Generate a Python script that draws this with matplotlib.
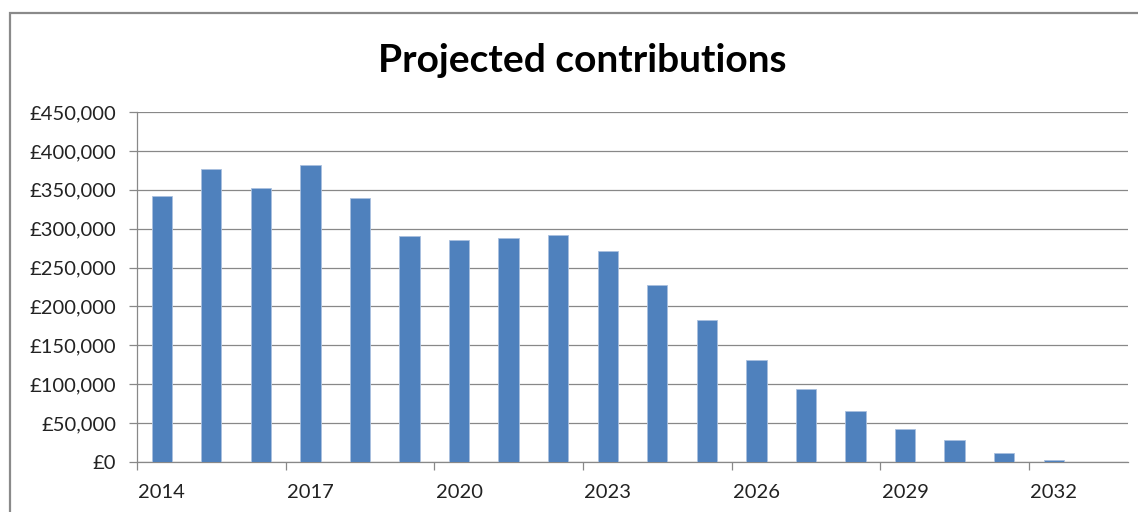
import matplotlib
matplotlib.use("Agg")
from matplotlib import pyplot as plt
from matplotlib.patches import Rectangle
from matplotlib.ticker import FuncFormatter
import numpy as np

# data
years = list(range(2014, 2034))
contributions = [342000, 377000, 352500, 382000, 340000, 290000, 286000, 288000, 291500, 271500,
                 227000, 182500, 131000, 93500, 66000, 42500, 28500, 12000, 2000, 0]
yTicks = [0, 50000, 100000, 150000, 200000, 250000, 300000, 350000, 400000, 450000]

plt.rcParams['font.family'] = ['Lato', 'DejaVu Sans']
gray = "#888888"

fig = plt.figure(figsize=(11.38, 5.12), dpi=100)
ax = fig.add_axes([137 / 1138, 50 / 512, 991 / 1138, 350 / 512])

x = np.arange(len(years))
ax.bar(x, contributions, width=0.41, color="#4F81BD", edgecolor="#a9c0df", linewidth=0.6, zorder=3)

ax.set_xlim(-0.5, len(years) - 0.5)
ax.set_ylim(0, 450000)
ax.set_yticks(yTicks)
ax.yaxis.set_major_formatter(FuncFormatter(lambda v, p: "£{:,.0f}".format(v)))
ax.grid(axis="y", color=gray, linewidth=0.9, zorder=0)

# ticks between categories, labels on every third bar
ax.set_xticks(np.arange(-0.5, len(years), 3))
ax.set_xticklabels([])
ax.set_xticks(x[::3], minor=True)
ax.set_xticklabels([str(y) for y in years[::3]], minor=True)
ax.tick_params(axis="x", which="major", length=6, color=gray, width=0.9)
ax.tick_params(axis="x", which="minor", length=0, pad=16, labelsize=14.5, labelcolor="#222222")
ax.tick_params(axis="y", length=6, color=gray, width=0.9, pad=9, labelsize=14.5, labelcolor="#222222")

for s in ["top", "right"]:
    ax.spines[s].set_visible(False)
for s in ["left", "bottom"]:
    ax.spines[s].set_color(gray)
    ax.spines[s].set_linewidth(0.9)

fig.text(582 / 1138, 1 - 60 / 512, "Projected contributions", ha="center", va="center",
         fontsize=28, fontweight="bold", color="black")

# chart border (only top and left edge visible in the crop)
fig.add_artist(Rectangle((10 / 1138, -0.2), 1.2, 1.2 - 13 / 512, transform=fig.transFigure,
                         fill=False, edgecolor="#8a8a8a", linewidth=1.6))

fig.savefig("out.png", dpi=100, facecolor="white")
